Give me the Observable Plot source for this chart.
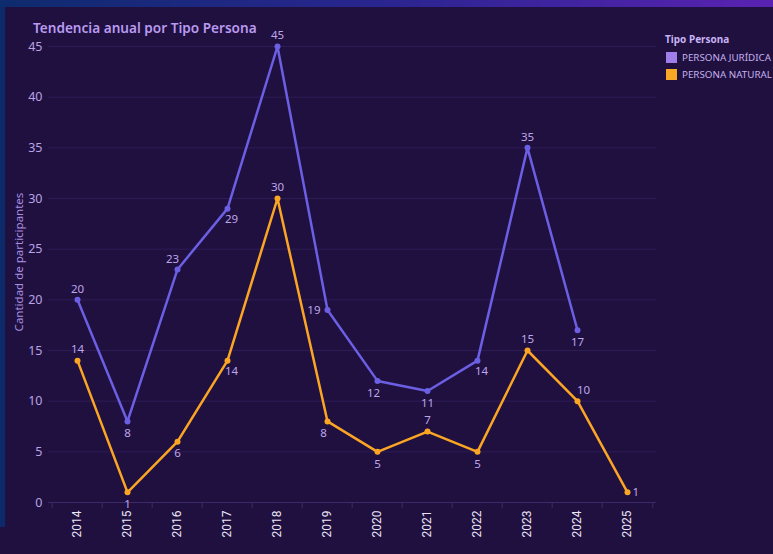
<!DOCTYPE html>
<html>
<head>
<meta charset="utf-8">
<script src="https://cdn.jsdelivr.net/npm/d3@7"></script>
<script src="https://cdn.jsdelivr.net/npm/@observablehq/plot@0.6"></script>
<style>
  html, body { margin: 0; padding: 0; background: #20103f; }
  #wrap { position: relative; width: 773px; height: 554px; overflow: hidden; background: #20103f; font-family: "Noto Sans", "Open Sans", sans-serif; }
  #leftStrip { position: absolute; left: 0; top: 0; width: 5px; height: 527px; background: #0c2a6a; }
  #topStrip { position: absolute; left: 0; top: 0; width: 773px; height: 7px; background: linear-gradient(90deg, #0e2b6e 0%, #2a2590 50%, #5a22b2 100%); }
  #chart { position: absolute; left: 0; top: 0; }
  #title { position: absolute; left: 33px; top: 18px; font-size: 13.6px; font-weight: 600; color: #b99af0; white-space: nowrap; }
  #ylabel { position: absolute; left: 18px; top: 262px; transform: translate(-50%, -50%) rotate(-90deg); font-size: 11.5px; color: #a98fe0; white-space: nowrap; }
  #legend { position: absolute; left: 665px; top: 32px; white-space: nowrap; }
  #legend .ttl { font-size: 10px; font-weight: 700; color: #c8b3f5; margin-bottom: 3px; }
  #legend .item { display: flex; align-items: center; height: 17px; font-size: 9.8px; color: #c4b0ee; }
  #legend .sw { width: 11px; height: 11px; margin-right: 5px; margin-left: 1px; }
</style>
</head>
<body>
<div id="wrap">
  <div id="chart"></div>
  <div id="leftStrip"></div>
  <div id="topStrip"></div>
  <div id="title"></div>
  <div id="ylabel"></div>
  <div id="legend"></div>
</div>
<script>
// ---- Data ----
const years = [2014, 2015, 2016, 2017, 2018, 2019, 2020, 2021, 2022, 2023, 2024, 2025];
const seriesNames = ["PERSONA JURÍDICA", "PERSONA NATURAL"];
const juridica = [20, 8, 23, 29, 45, 19, 12, 11, 14, 35, 17, null];
const natural = [14, 1, 6, 14, 30, 8, 5, 7, 5, 15, 10, 1];
const yTicks = [0, 5, 10, 15, 20, 25, 30, 35, 40, 45];
const titleText = "Tendencia anual por Tipo Persona";
const yLabelText = "Cantidad de participantes";
const legendTitle = "Tipo Persona";

// ---- Styling / placement (not data) ----
const lineColors = ["#6b5fe3", "#fba524"];
const swatchColors = ["#a07ee9", "#f9a825"];
const labelPlacement = {
  "PERSONA JURÍDICA": ["top","bottom","top-left","bottom-right","top","left","bottom-left","bottom","bottom-right","top","bottom", null],
  "PERSONA NATURAL": ["top","bottom","bottom","bottom-right","top","bottom-left","bottom","top","bottom","top","top-right","right"]
};
const offsets = {
  "top": [0, -11, "middle"], "bottom": [0, 12, "middle"], "left": [-7, 0, "end"], "right": [5, 0, "start"],
  "top-left": [-5, -10, "middle"], "top-right": [6, -11, "middle"], "bottom-left": [-4, 12, "middle"], "bottom-right": [4, 11, "middle"]
};

const rows = [];
[juridica, natural].forEach((arr, si) => {
  arr.forEach((v, i) => {
    if (v != null) rows.push({ year: String(years[i]), value: v, serie: seriesNames[si], pos: labelPlacement[seriesNames[si]][i] });
  });
});

const W = 773, H = 554, mL = 48, mR = 117, mT = 46, mB = 52;
const step = (W - mL - mR) / years.length;

const labelMarks = Object.entries(offsets).map(([k, [dx, dy, anchor]]) =>
  Plot.text(rows.filter(r => r.pos === k), {
    x: "year", y: "value", text: d => String(d.value), dx, dy, textAnchor: anchor,
    fill: "#bfa5ec", fontSize: 11.5, fontFamily: "Noto Sans, sans-serif"
  })
);

const chart = Plot.plot({
  width: W, height: H,
  marginLeft: mL, marginRight: mR, marginTop: mT, marginBottom: mB,
  style: { background: "transparent", color: "#b7a3e6", fontFamily: "Noto Sans, sans-serif", overflow: "visible" },
  x: { type: "point", domain: years.map(String), padding: 0.5 },
  y: { type: "linear", domain: [0, 45] },
  color: { domain: seriesNames, range: lineColors },
  marks: [
    Plot.ruleY(yTicks.filter(t => t > 0), { y: d => d, stroke: "#2d1c55", strokeWidth: 1 }),
    Plot.ruleY([0], { stroke: "#3a2a6a", strokeWidth: 1 }),
    Plot.ruleX(years.map(String), { x: d => d, dx: -step / 2, y1: 0, y2: -0.6, stroke: "#3a2a6a" }),
    Plot.ruleX([String(years[years.length - 1])], { x: d => d, dx: step / 2, y1: 0, y2: -0.6, stroke: "#3a2a6a" }),
    Plot.axisY(yTicks, { tickSize: 0, tickPadding: 6, fontSize: 12.5, fill: "#b7a3e6", label: null }),
    Plot.axisX(years.map(String), { tickSize: 0, tickPadding: 8, tickRotate: -90, fontSize: 12, fill: "#ece6f7", label: null, fontFamily: "Roboto, Liberation Sans, sans-serif" }),
    Plot.line(rows, { x: "year", y: "value", stroke: "serie", z: "serie", strokeWidth: 2.5 }),
    Plot.dot(rows, { x: "year", y: "value", fill: "serie", r: 3 }),
    ...labelMarks
  ]
});
document.getElementById("chart").appendChild(chart);

document.getElementById("title").textContent = titleText;
document.getElementById("ylabel").textContent = yLabelText;
const lg = document.getElementById("legend");
const t = document.createElement("div"); t.className = "ttl"; t.textContent = legendTitle; lg.appendChild(t);
seriesNames.forEach((n, i) => {
  const it = document.createElement("div"); it.className = "item";
  const sw = document.createElement("span"); sw.className = "sw"; sw.style.background = swatchColors[i];
  const tx = document.createElement("span"); tx.textContent = n;
  it.appendChild(sw); it.appendChild(tx); lg.appendChild(it);
});
</script>
</body>
</html>
